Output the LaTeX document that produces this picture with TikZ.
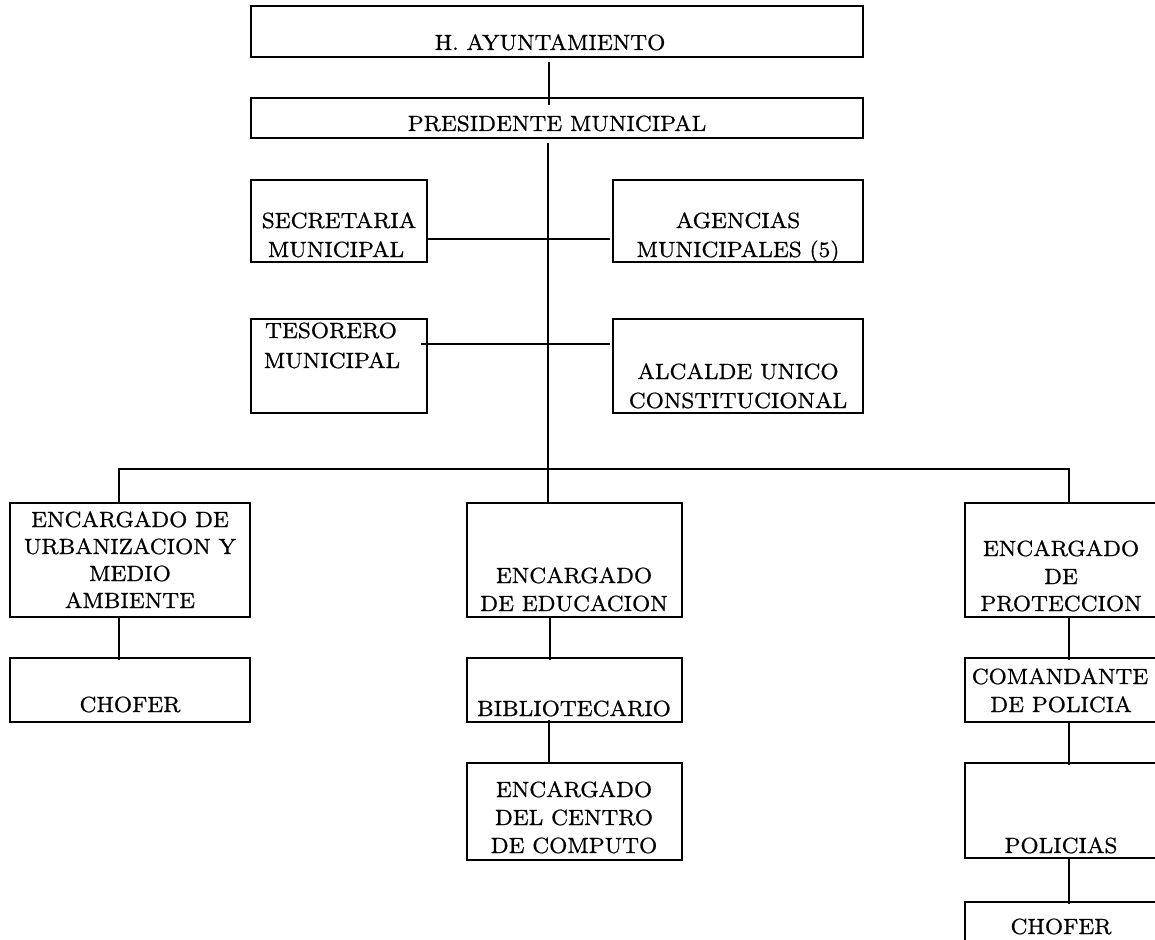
\documentclass[tikz,border=0pt]{standalone}
\usepackage{fontspec}
\newfontfamily\lmx{lmroman8-regular.otf}[FakeStretch=1.0, FakeBold=0.8]
\newcommand\mkbox[5]{\node[box, minimum width={(#4-#2)*1pt}, minimum height={(#5-#3)*1pt}] (#1) at ({(#2+#4)/2},{(#3+#5)/2}) {};}
\begin{document}
\begin{tikzpicture}[x=1pt,y=-1pt,
  box/.style={draw, line width=2pt, inner sep=0pt, outer sep=0pt},
  lbl/.style={anchor=base, inner sep=0pt, font=\lmx\fontsize{22}{28}\selectfont},
  link/.style={line width=1.3pt}]
\useasboundingbox (0,0) rectangle (1155,939);
\fill[white] (0,0) rectangle (1155,939);
\clip (0,0) rectangle (1155,939);
% boxes
\mkbox{hay}{251}{6}{863}{57}
\mkbox{pres}{251}{98}{863}{138}
\mkbox{sec}{251}{180}{427}{262}
\mkbox{age}{613}{180}{863}{262}
\mkbox{tes}{251}{319}{427}{413}
\mkbox{alc}{613}{319}{863}{413}
\mkbox{urb}{10}{503}{250}{617}
\mkbox{chA}{10}{658}{250}{722}
\mkbox{edu}{467}{503}{682}{617}
\mkbox{bib}{467}{658}{682}{722}
\mkbox{cmp}{467}{763}{682}{860}
\mkbox{prot}{965}{503}{1160}{617}
\mkbox{cmd}{965}{658}{1160}{722}
\mkbox{pol}{965}{763}{1160}{858}
\mkbox{chB}{965}{902}{1160}{980}
% texts
\node[lbl] (thay) at (550,50) {H. AYUNTAMIENTO};
\node[lbl] (tpres) at (557,131) {PRESIDENTE MUNICIPAL};
\node[lbl] (tsec1) at (339,228) {SECRETARIA};
\node[lbl] (tsec2) at (336,257) {MUNICIPAL};
\node[lbl] (tage1) at (738,228) {AGENCIAS};
\node[lbl] (tage2) at (738,257) {MUNICIPALES (5)};
\node[lbl] (ttes1) at (331,338) {TESORERO};
\node[lbl] (ttes2) at (332,368) {MUNICIPAL};
\node[lbl] (talc1) at (738,379) {ALCALDE UNICO};
\node[lbl] (talc2) at (738,408) {CONSTITUCIONAL};
\node[lbl] (turb1) at (130,527) {ENCARGADO DE};
\node[lbl] (turb2) at (130,554) {URBANIZACION Y};
\node[lbl] (turb3) at (130,581) {MEDIO};
\node[lbl] (turb4) at (130,608) {AMBIENTE};
\node[lbl] (tchA) at (130,712) {CHOFER};
\node[lbl] (tedu1) at (574,583) {ENCARGADO};
\node[lbl] (tedu2) at (574,611) {DE EDUCACION};
\node[lbl] (tbib) at (574,716) {BIBLIOTECARIO};
\node[lbl] (tcmp1) at (574,797) {ENCARGADO};
\node[lbl] (tcmp2) at (574,825) {DEL CENTRO};
\node[lbl] (tcmp3) at (574,853) {DE COMPUTO};
\node[lbl] (tprot1) at (1061,556) {ENCARGADO};
\node[lbl] (tprot2) at (1061,584) {DE};
\node[lbl] (tprot3) at (1061,611) {PROTECCION};
\node[lbl] (tcmd1) at (1060,684) {COMANDANTE};
\node[lbl] (tcmd2) at (1061,712) {DE POLICIA};
\node[lbl] (tpol) at (1061,853) {POLICIAS};
\node[lbl] (tchB) at (1061,934) {CHOFER};
% reference coordinates
\coordinate (sx) at (549,0);
\coordinate (sp) at (548,0);
\coordinate (ex) at (550,0);
\coordinate (lx) at (119,0);
\coordinate (rx) at (1069,0);
\coordinate (bus) at (0,469);
\coordinate (e1) at (610,239);
\coordinate (e2) at (610,344);
\coordinate (s2) at (421,344);
% connectors
\draw[link, shorten <=5pt, shorten >=-7pt] (hay.south -| sx) -- (pres.north -| sx);
\draw[link, shorten <=5pt] (pres.south -| sp) -- (edu.north -| sp);
\draw[link] (sec.east |- e1) -- (e1);
\draw[link] (s2) -- (e2);
\draw[link] (urb.north -| lx) -- (bus -| lx) -- (bus -| rx) -- (prot.north -| rx);
\draw[link, shorten >=-2pt] (urb.south -| lx) -- (chA.north -| lx);
\draw[link, shorten >=-2pt] (edu.south -| ex) -- (bib.north -| ex);
\draw[link, shorten <=-2pt] (bib.south -| sx) -- (cmp.north -| sx);
\draw[link, shorten >=-2pt] (prot.south -| rx) -- (cmd.north -| rx);
\draw[link, shorten >=-2pt] (cmd.south -| rx) -- (pol.north -| rx);
\draw[link, shorten >=-2pt] (pol.south -| rx) -- (chB.north -| rx);
\end{tikzpicture}
\end{document}
